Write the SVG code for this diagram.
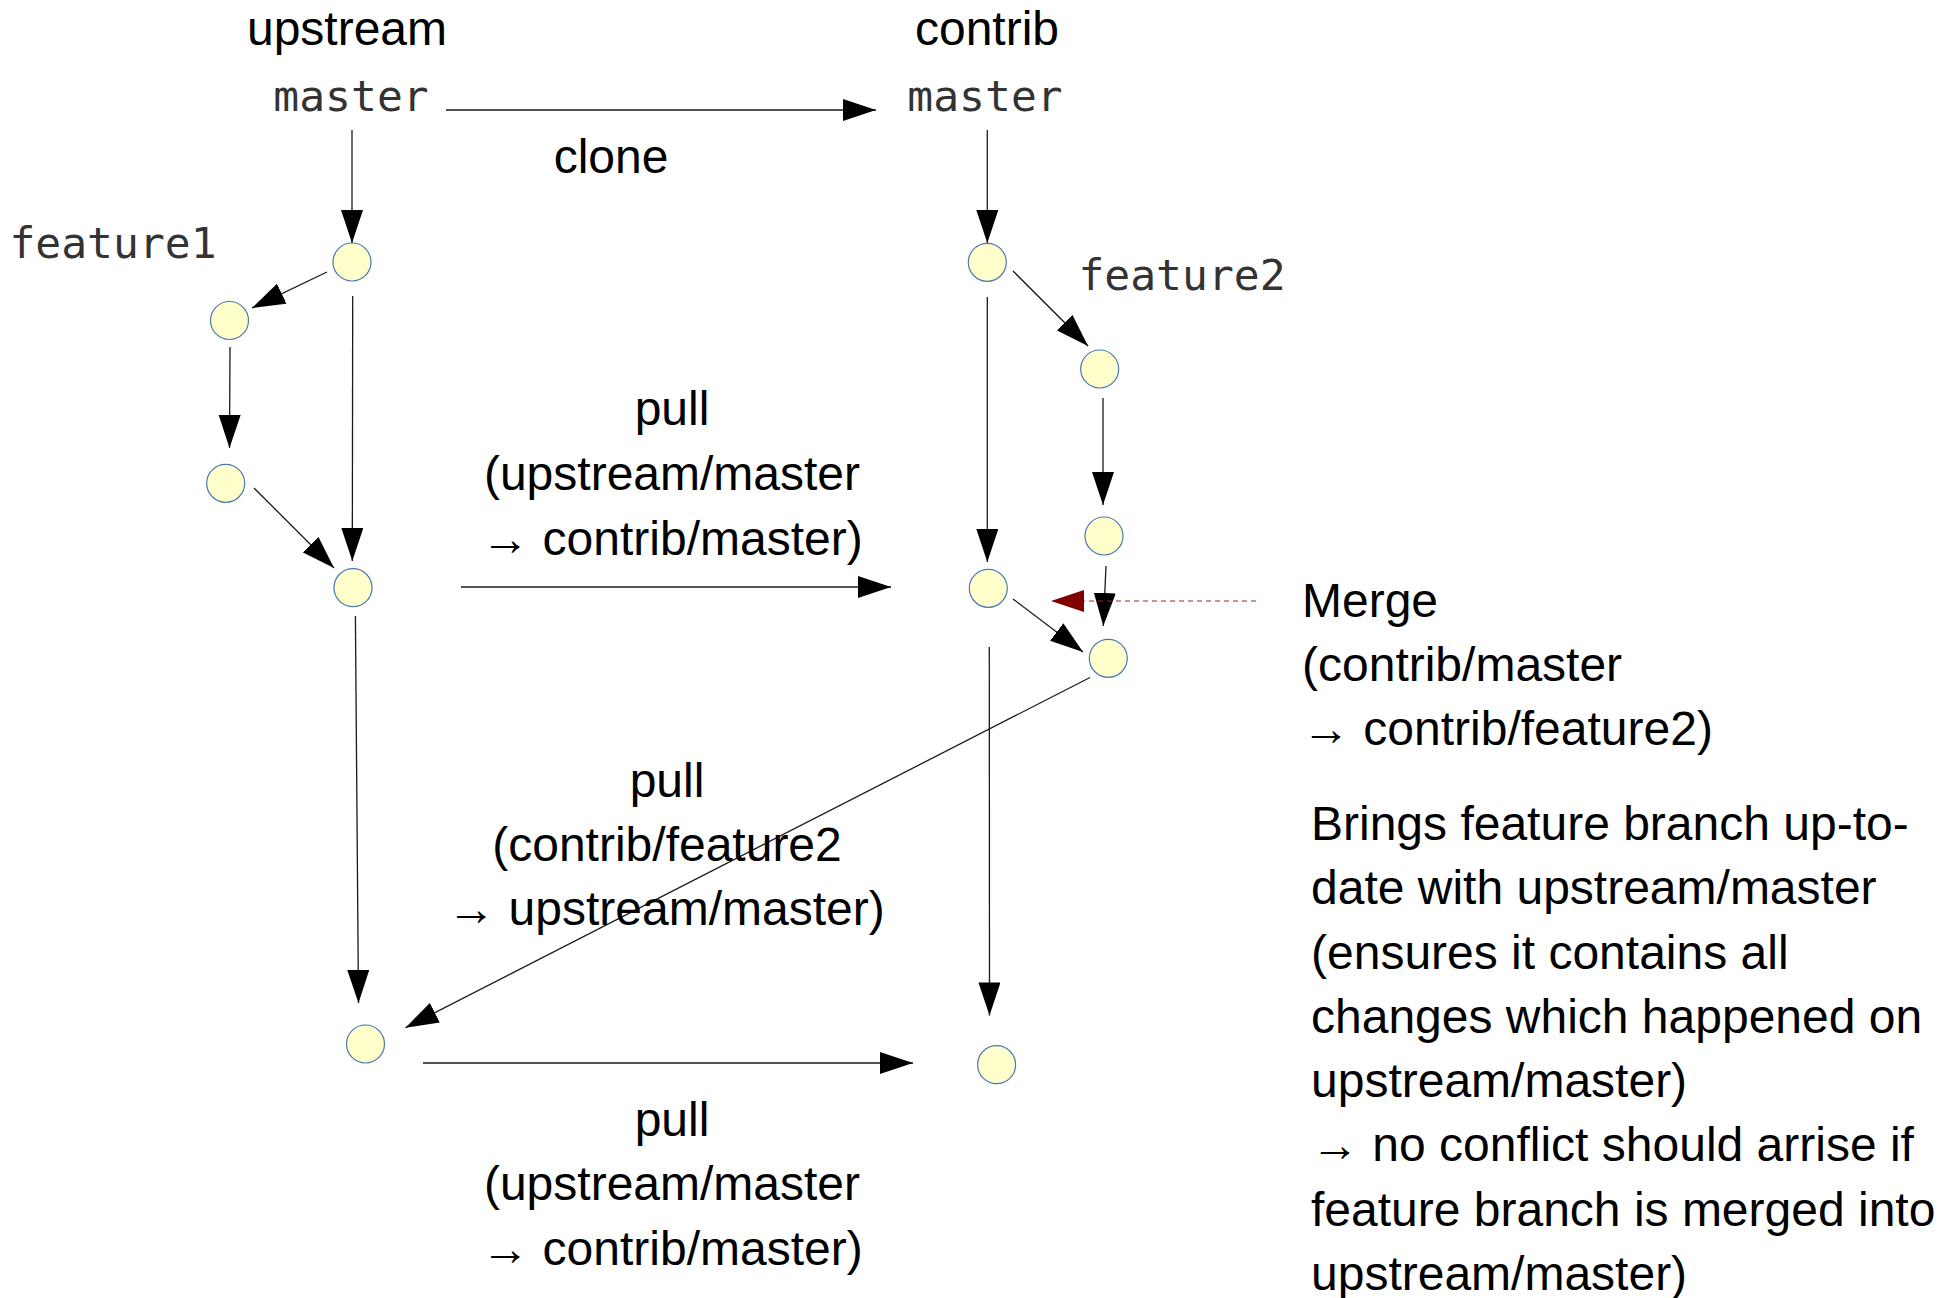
<svg xmlns="http://www.w3.org/2000/svg" width="1953" height="1298" viewBox="0 0 1953 1298">
  <style>
    .lbl { font-family: "Liberation Sans", Arial, sans-serif; font-size: 48px; fill: #000; }
    .mid { text-anchor: middle; }
    .mono { font-family: "DejaVu Sans Mono", "Liberation Mono", monospace; font-size: 43px; fill: #333; }
    .commit { fill: #ffffcc; stroke: #4a78b4; stroke-width: 1.2; }
    .edge { fill: none; stroke: #1a1a1a; stroke-width: 1.3; marker-end: url(#head); }
    .merge { fill: none; stroke: #a02222; stroke-width: 1.2; stroke-dasharray: 5 4; marker-end: url(#headRed); }
  </style>
  <defs>
    <marker id="head" markerUnits="userSpaceOnUse" markerWidth="34" markerHeight="23" refX="33" refY="11" orient="auto">
      <path d="M0,0 L33,11 L0,22 z" fill="#000"/>
    </marker>
    <marker id="headRed" markerUnits="userSpaceOnUse" markerWidth="34" markerHeight="23" refX="33" refY="11" orient="auto">
      <path d="M0,0 L33,11 L0,22 z" fill="#800000"/>
    </marker>
  </defs>

  <rect width="1953" height="1298" fill="#fff"/>

  <!-- repository headings -->
  <g id="label-upstream"><text class="lbl mid" x="347" y="45">upstream</text></g>
  <g id="label-contrib"><text class="lbl mid" x="987" y="45">contrib</text></g>

  <!-- branch names -->
  <g id="branch-upstream-master"><text class="mono mid" x="351" y="111">master</text></g>
  <g id="branch-contrib-master"><text class="mono mid" x="985" y="111">master</text></g>
  <g id="branch-feature1"><text class="mono mid" x="113" y="258">feature1</text></g>
  <g id="branch-feature2"><text class="mono mid" x="1182" y="290">feature2</text></g>

  <!-- connectors -->
  <g id="connectors">
    <line class="edge" x1="446" y1="110" x2="876" y2="110"/>
    <line class="edge" x1="352" y1="130" x2="352" y2="243"/>
    <line class="edge" x1="327" y1="272" x2="252" y2="308"/>
    <line class="edge" x1="230" y1="347" x2="229.5" y2="448"/>
    <line class="edge" x1="254" y1="488" x2="334" y2="568"/>
    <line class="edge" x1="352.7" y1="296" x2="352.3" y2="561"/>
    <line class="edge" x1="355.4" y1="616" x2="358.5" y2="1003"/>
    <line class="edge" x1="461" y1="587" x2="891" y2="587"/>
    <line class="edge" x1="987.3" y1="130" x2="987.3" y2="243"/>
    <line class="edge" x1="1013" y1="271" x2="1088" y2="346"/>
    <line class="edge" x1="987.3" y1="297" x2="987.3" y2="562"/>
    <line class="edge" x1="1103" y1="398" x2="1103" y2="505"/>
    <line class="edge" x1="1106" y1="566" x2="1103.3" y2="626"/>
    <line class="edge" x1="1013" y1="599" x2="1083" y2="652"/>
    <line class="merge" x1="1256" y1="601" x2="1051" y2="601"/>
    <line class="edge" x1="1090" y1="677.5" x2="405.5" y2="1027.7"/>
    <line class="edge" x1="989.3" y1="647" x2="989.5" y2="1015.5"/>
    <line class="edge" x1="423" y1="1063" x2="913" y2="1063"/>
  </g>

  <!-- commits -->
  <g id="commit-u1"><circle class="commit" cx="352" cy="262" r="19"/></g>
  <g id="commit-f1a"><circle class="commit" cx="229.5" cy="320.5" r="19"/></g>
  <g id="commit-f1b"><circle class="commit" cx="225.7" cy="483.3" r="19"/></g>
  <g id="commit-u3"><circle class="commit" cx="353" cy="587.7" r="19"/></g>
  <g id="commit-u4"><circle class="commit" cx="365.5" cy="1044" r="19"/></g>
  <g id="commit-c1"><circle class="commit" cx="987.3" cy="262.3" r="19"/></g>
  <g id="commit-c2"><circle class="commit" cx="1099.7" cy="369" r="19"/></g>
  <g id="commit-c3"><circle class="commit" cx="1104" cy="536" r="19"/></g>
  <g id="commit-cm2"><circle class="commit" cx="988.3" cy="588.3" r="19"/></g>
  <g id="commit-c4"><circle class="commit" cx="1108.3" cy="658.3" r="19"/></g>
  <g id="commit-c5"><circle class="commit" cx="996.6" cy="1064.7" r="19"/></g>

  <!-- operation labels -->
  <g id="label-clone"><text class="lbl mid" x="611" y="173">clone</text></g>

  <g id="label-pull-1">
    <text class="lbl mid" x="672" y="425">pull</text>
    <text class="lbl mid" x="672" y="490">(upstream/master</text>
    <text class="lbl mid" x="672" y="555">→ contrib/master)</text>
  </g>

  <g id="label-pull-2">
    <text class="lbl mid" x="667" y="797">pull</text>
    <text class="lbl mid" x="667" y="861">(contrib/feature2</text>
    <text class="lbl mid" x="666" y="925">→ upstream/master)</text>
  </g>

  <g id="label-pull-3">
    <text class="lbl mid" x="672" y="1136">pull</text>
    <text class="lbl mid" x="672" y="1200">(upstream/master</text>
    <text class="lbl mid" x="672" y="1265">→ contrib/master)</text>
  </g>

  <g id="label-merge">
    <text class="lbl" x="1302" y="617">Merge</text>
    <text class="lbl" x="1302" y="681">(contrib/master</text>
    <text class="lbl" x="1302" y="745">→ contrib/feature2)</text>
  </g>

  <g id="label-note">
    <text class="lbl" x="1311" y="840">Brings feature branch up-to-</text>
    <text class="lbl" x="1311" y="904">date with upstream/master</text>
    <text class="lbl" x="1311" y="969">(ensures it contains all</text>
    <text class="lbl" x="1311" y="1033">changes which happened on</text>
    <text class="lbl" x="1311" y="1097">upstream/master)</text>
    <text class="lbl" x="1311" y="1161">→ no conflict should arrise if</text>
    <text class="lbl" x="1311" y="1226">feature branch is merged into</text>
    <text class="lbl" x="1311" y="1290">upstream/master)</text>
  </g>
</svg>
